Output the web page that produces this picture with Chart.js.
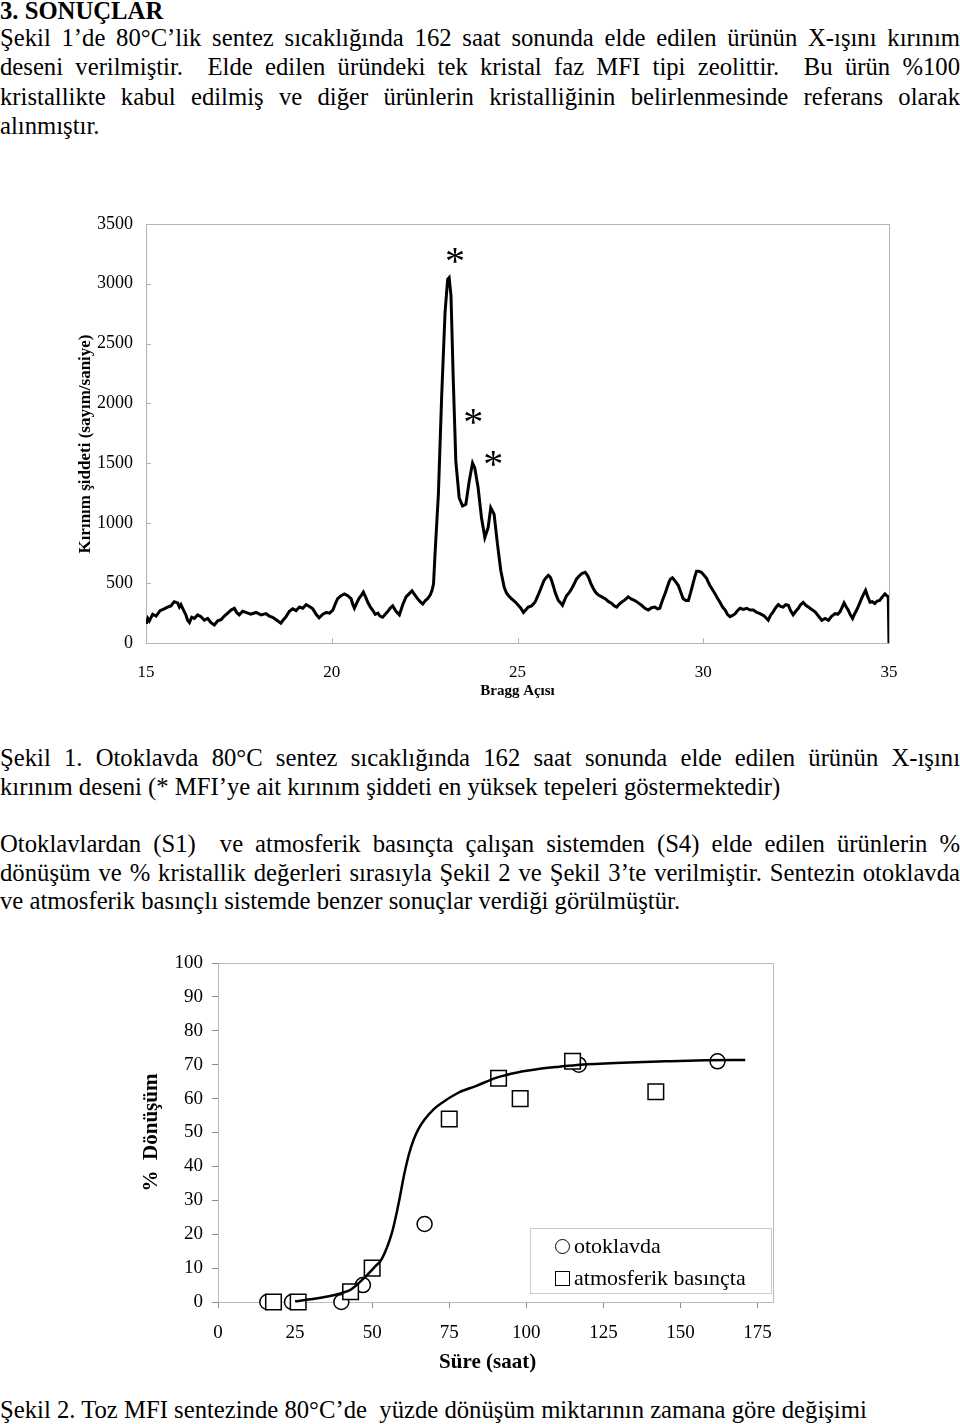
<!DOCTYPE html>
<html>
<head>
<meta charset="utf-8">
<script src="https://cdn.jsdelivr.net/npm/chart.js@4.4.1/dist/chart.umd.min.js"></script>
<style>
  body { margin: 0; background: #fff; width: 960px; height: 1424px; position: relative; overflow: hidden;
         font-family: "Liberation Serif", "Times New Roman", serif; color: #000; }
  .t { position: absolute; left: 0; width: 960px; font-size: 24.7px; line-height: 29.3px; }
  .j { text-align: justify; text-align-last: justify; }
  h1 { position: absolute; left: 0; top: -3px; margin: 0; font-size: 24.7px; line-height: 28px; font-weight: bold; }
  #c1 { position: absolute; left: 60px; top: 200px; }
  #c2 { position: absolute; left: 120px; top: 940px; }
  #legend { position: absolute; left: 530px; top: 1228px; width: 240px; height: 64px; border: 1px solid #ccc;
            font-size: 22px; }
  #legend div { position: absolute; left: 24px; height: 24px; line-height: 24px; white-space: nowrap; }
  .mk { display: inline-block; width: 13px; height: 13px; border: 1.5px solid #000; margin-right: 4px; vertical-align: -1px; }
  .mk.c { border-radius: 50%; }
</style>
</head>
<body>
<h1>3. SONUÇLAR</h1>

<div class="t" style="top:23px">
  <div class="j">Şekil 1’de 80°C’lik sentez sıcaklığında 162 saat sonunda elde edilen ürünün X-ışını kırınım</div>
  <div class="j">deseni verilmiştir.&nbsp; Elde edilen üründeki tek kristal faz MFI tipi zeolittir.&nbsp; Bu ürün %100</div>
  <div class="j">kristallikte kabul edilmiş ve diğer ürünlerin kristalliğinin belirlenmesinde referans olarak</div>
  <div>alınmıştır.</div>
</div>

<canvas id="c1" width="860" height="510"></canvas>

<div class="t" style="top:743px">
  <div class="j">Şekil 1. Otoklavda 80°C sentez sıcaklığında 162 saat sonunda elde edilen ürünün X-ışını</div>
  <div>kırınım deseni (* MFI’ye ait kırınım şiddeti en yüksek tepeleri göstermektedir)</div>
</div>

<div class="t" style="top:830px;line-height:28.5px">
  <div class="j">Otoklavlardan (S1)&nbsp; ve atmosferik basınçta çalışan sistemden (S4) elde edilen ürünlerin %</div>
  <div class="j">dönüşüm ve % kristallik değerleri sırasıyla Şekil 2 ve Şekil 3’te verilmiştir. Sentezin otoklavda</div>
  <div>ve atmosferik basınçlı sistemde benzer sonuçlar verdiği görülmüştür.</div>
</div>

<canvas id="c2" width="680" height="450"></canvas>
<div id="legend">
  <div style="top:5px"><span class="mk c"></span>otoklavda</div>
  <div style="top:37px"><span class="mk"></span>atmosferik basınçta</div>
</div>

<div class="t" style="top:1395px">
  <div>Şekil 2. Toz MFI sentezinde 80°C’de&nbsp; yüzde dönüşüm miktarının zamana göre değişimi</div>
</div>

<script>
// Şekil 1 - XRD deseni
const braggAngle = [
  15.01, 15.05, 15.09, 15.18, 15.27, 15.38, 15.49, 15.58, 15.67, 15.76, 15.85, 15.90, 15.94, 16.01, 16.08, 16.12,
  16.17, 16.23, 16.30, 16.39, 16.48, 16.57, 16.66, 16.75, 16.84, 16.93, 17.02, 17.11, 17.20, 17.29, 17.38, 17.44,
  17.51, 17.60, 17.69, 17.82, 17.96, 18.10, 18.23, 18.32, 18.41, 18.52, 18.63, 18.70, 18.77, 18.86, 18.95, 19.04,
  19.13, 19.22, 19.31, 19.40, 19.49, 19.58, 19.66, 19.76, 19.85, 19.94, 20.03, 20.10, 20.16, 20.25, 20.34, 20.43,
  20.52, 20.57, 20.61, 20.68, 20.74, 20.80, 20.85, 20.91, 20.97, 21.04, 21.10, 21.17, 21.24, 21.30, 21.37, 21.44,
  21.50, 21.57, 21.64, 21.73, 21.82, 21.91, 22.00, 22.08, 22.16, 22.24, 22.31, 22.38, 22.45, 22.52, 22.58, 22.65,
  22.70, 22.74, 22.78, 22.87, 22.96, 23.05, 23.12, 23.16, 23.21, 23.27, 23.34, 23.43, 23.52, 23.61, 23.70, 23.79,
  23.85, 23.94, 24.03, 24.12, 24.21, 24.28, 24.37, 24.46, 24.55, 24.64, 24.70, 24.75, 24.82, 24.89, 24.95, 25.02,
  25.09, 25.16, 25.22, 25.29, 25.38, 25.47, 25.54, 25.61, 25.66, 25.71, 25.77, 25.83, 25.88, 25.92, 25.97, 26.01,
  26.06, 26.10, 26.16, 26.21, 26.27, 26.32, 26.39, 26.46, 26.52, 26.59, 26.66, 26.73, 26.78, 26.82, 26.86, 26.91,
  26.97, 27.04, 27.11, 27.18, 27.27, 27.36, 27.45, 27.54, 27.60, 27.67, 27.74, 27.80, 27.89, 27.98, 28.07, 28.16,
  28.25, 28.34, 28.43, 28.52, 28.61, 28.70, 28.77, 28.83, 28.90, 28.97, 29.03, 29.08, 29.12, 29.17, 29.25, 29.33,
  29.40, 29.46, 29.53, 29.60, 29.66, 29.71, 29.77, 29.82, 29.88, 29.95, 30.02, 30.09, 30.14, 30.18, 30.25, 30.32,
  30.38, 30.45, 30.52, 30.59, 30.65, 30.72, 30.79, 30.86, 30.92, 30.99, 31.08, 31.17, 31.26, 31.35, 31.44, 31.53,
  31.64, 31.75, 31.81, 31.88, 31.95, 32.02, 32.08, 32.15, 32.22, 32.29, 32.35, 32.42, 32.49, 32.56, 32.62, 32.69,
  32.76, 32.83, 32.92, 33.01, 33.10, 33.19, 33.28, 33.37, 33.46, 33.55, 33.62, 33.68, 33.74, 33.79, 33.85, 33.90,
  33.96, 34.02, 34.07, 34.13, 34.20, 34.26, 34.32, 34.37, 34.43, 34.49, 34.55, 34.62, 34.68, 34.75, 34.82, 34.89,
  34.94, 34.98, 35.00
];
const intensity = [
  160, 205, 185, 240, 225, 270, 285, 300, 310, 345, 335, 300, 320, 275, 230, 190,
  170, 215, 205, 235, 220, 190, 205, 170, 150, 185, 195, 225, 250, 275, 290, 255,
  235, 265, 255, 240, 255, 235, 245, 225, 215, 190, 165, 195, 220, 265, 285, 270,
  300, 290, 320, 305, 285, 240, 210, 240, 255, 250, 275, 330, 370, 395, 410, 395,
  370, 320, 290, 340, 375, 400, 425, 385, 340, 300, 275, 240, 250, 225, 215, 240,
  260, 290, 310, 265, 235, 320, 385, 410, 435, 400, 370, 345, 325, 355, 370, 400,
  440, 495, 744, 1241, 2070, 2761, 3037, 3051, 2899, 2208, 1517, 1213, 1144, 1158, 1351, 1503,
  1461, 1296, 1047, 881, 964, 1130, 1075, 827, 605, 467, 420, 398, 375, 356, 340, 315,
  290, 255, 275, 300, 310, 340, 390, 440, 480, 520, 545, 565, 550, 520, 470, 425,
  385, 355, 335, 315, 360, 395, 420, 455, 490, 535, 560, 580, 585, 590, 575, 550,
  500, 455, 420, 400, 385, 370, 345, 330, 310, 300, 325, 340, 360, 385, 365, 355,
  335, 315, 290, 275, 295, 300, 285, 290, 355, 410, 465, 510, 535, 545, 515, 480,
  420, 370, 355, 355, 420, 480, 550, 600, 600, 590, 565, 540, 505, 480, 445, 410,
  375, 340, 300, 275, 240, 220, 230, 245, 270, 290, 280, 290, 275, 275, 255, 245,
  225, 190, 230, 260, 295, 320, 305, 300, 320, 315, 270, 235, 265, 290, 320, 340,
  315, 300, 280, 260, 225, 190, 205, 190, 225, 245, 240, 260, 300, 335, 300, 275,
  235, 205, 240, 275, 325, 370, 410, 440, 385, 340, 345, 330, 350, 355, 385, 410,
  395, 385, 0
];
const angleTicks = [15, 20, 25, 30, 35];
const countTicks = [0, 500, 1000, 1500, 2000, 2500, 3000, 3500];
// MFI tepeleri (*) işaretleri
const starAngle = [23.32, 23.81, 24.35];
const starCount = [3236, 1890, 1540];

// Şekil 2 - % dönüşüm
const otoklavdaSaat = [16, 24, 40, 47, 67, 117, 162];
const otoklavdaDonusum = [0, 0, 0, 5, 23, 70, 71];
const atmosferikSaat = [18, 26, 43, 50, 75, 91, 98, 115, 142];
const atmosferikDonusum = [0, 0, 3, 10, 54, 66, 60, 71, 62];
const egriSaat = [25, 30, 36, 40, 43, 48, 51, 53, 56.4, 58.4, 60.5, 62, 63.5, 65, 67, 70, 72.7, 78.1, 83.6, 90.4, 97.1, 103.9, 110.7, 117.5, 131, 145, 158, 171];
const egriDonusum = [0.2, 0.8, 1.7, 2.6, 3.6, 7.6, 10.5, 12.5, 20.4, 28.3, 38.1, 43.8, 48.0, 51.0, 53.8, 56.9, 58.8, 61.8, 63.7, 66.2, 67.7, 68.7, 69.4, 70, 70.6, 71, 71.3, 71.4];

const serif = '"Liberation Serif", "Times New Roman", serif';

const frame = {
  id: 'frame',
  beforeDatasetsDraw(chart, args, opts) {
    const { ctx, chartArea: a, scales } = chart;
    ctx.save();
    ctx.strokeStyle = opts.color;
    ctx.lineWidth = 1;
    ctx.strokeRect(Math.round(a.left) + 0.5, Math.round(a.top) + 0.5, Math.round(a.width), Math.round(a.height));
    if (opts.inside) {
      ctx.beginPath();
      scales.x.ticks.forEach(t => {
        const px = Math.round(scales.x.getPixelForValue(t.value)) + 0.5;
        ctx.moveTo(px, a.bottom); ctx.lineTo(px, a.bottom - 5);
      });
      scales.y.ticks.forEach(t => {
        const py = Math.round(scales.y.getPixelForValue(t.value)) + 0.5;
        ctx.moveTo(a.left, py); ctx.lineTo(a.left + 5, py);
      });
      ctx.stroke();
    }
    ctx.restore();
  }
};

const stars = {
  id: 'stars',
  afterDatasetsDraw(chart) {
    const { ctx, scales } = chart;
    ctx.save();
    ctx.font = '40px ' + serif;
    ctx.textAlign = 'center';
    ctx.textBaseline = 'alphabetic';
    ctx.fillStyle = '#000';
    starAngle.forEach((a, i) => {
      const m = ctx.measureText('*');
      const x = scales.x.getPixelForValue(a);
      const y = scales.y.getPixelForValue(starCount[i]);
      ctx.fillText('*', x, y + (m.actualBoundingBoxAscent - m.actualBoundingBoxDescent) / 2);
    });
    ctx.restore();
  }
};

new Chart(document.getElementById('c1'), {
  type: 'line',
  data: {
    datasets: [{
      data: braggAngle.map((a, i) => ({ x: a, y: intensity[i] })),
      borderColor: '#000',
      borderWidth: 3,
      pointRadius: 0,
      tension: 0,
      fill: false
    }]
  },
  options: {
    responsive: false,
    animation: false,
    layout: { padding: { top: 22, right: 31, left: 0, bottom: 0 } },
    plugins: {
      legend: { display: false },
      tooltip: { enabled: false },
      frame: { color: '#b4b4b4', inside: true }
    },
    scales: {
      x: {
        type: 'linear', min: 15, max: 35,
        afterFit: s => { s.height = 67; },
        afterBuildTicks: s => { s.ticks = angleTicks.map(v => ({ value: v })); },
        grid: { display: false, drawTicks: false },
        border: { display: false },
        ticks: { color: '#000', padding: 19, maxRotation: 0, font: { family: serif, size: 17 },
                 callback: v => String(v) },
        title: { display: true, text: 'Bragg Açısı', color: '#000', padding: { top: 0, bottom: 10 },
                 font: { family: serif, size: 15, weight: 'bold' } }
      },
      y: {
        min: 0, max: 3500,
        afterFit: s => { s.width = 86; },
        afterBuildTicks: s => { s.ticks = countTicks.map(v => ({ value: v })); },
        grid: { display: false, drawTicks: false },
        border: { display: false },
        ticks: { color: '#000', padding: 13, font: { family: serif, size: 18 },
                 callback: v => String(v) },
        title: { display: true, text: 'Kırınım şiddeti (sayım/saniye)\u00a0\u00a0\u00a0\u00a0\u00a0', color: '#000',
                 padding: { top: 15, bottom: 0 }, font: { family: serif, size: 17, weight: 'bold' } }
      }
    }
  },
  plugins: [frame, stars]
});

new Chart(document.getElementById('c2'), {
  type: 'scatter',
  data: {
    datasets: [
      {
        data: egriSaat.map((x, i) => ({ x, y: egriDonusum[i] })),
        showLine: true,
        borderColor: '#000',
        borderWidth: 2.5,
        pointRadius: 0,
        cubicInterpolationMode: 'monotone',
        clip: false
      },
      {
        label: 'atmosferik basınçta',
        data: atmosferikSaat.map((x, i) => ({ x, y: atmosferikDonusum[i] })),
        pointStyle: 'rect',
        pointRadius: 11,
        borderWidth: 1.5,
        borderColor: '#000',
        backgroundColor: '#fff',
        clip: false
      },
      {
        label: 'otoklavda',
        data: otoklavdaSaat.map((x, i) => ({ x, y: otoklavdaDonusum[i] })),
        pointStyle: 'circle',
        pointRadius: 7.5,
        borderWidth: 1.5,
        borderColor: '#000',
        backgroundColor: '#fff',
        clip: false
      }
    ]
  },
  options: {
    responsive: false,
    animation: false,
    layout: { padding: { top: 23, right: 27, left: 0, bottom: 0 } },
    plugins: {
      legend: { display: false },
      tooltip: { enabled: false },
      frame: { color: '#bbb', inside: false }
    },
    scales: {
      x: {
        type: 'linear', min: 0, max: 180,
        afterFit: s => { s.height = 88; },
        ticks: { stepSize: 25, includeBounds: false, color: '#000', padding: 14, maxRotation: 0,
                 font: { family: serif, size: 19 } },
        grid: { drawOnChartArea: false, drawTicks: true, tickLength: 6, color: '#888' },
        border: { color: '#888' },
        title: { display: true, text: 'Süre (saat)\u00a0\u00a0\u00a0', color: '#000', padding: { top: 0, bottom: 15 },
                 font: { family: serif, size: 21, weight: 'bold' } }
      },
      y: {
        min: 0, max: 100,
        afterFit: s => { s.width = 98; },
        ticks: { stepSize: 10, color: '#000', padding: 9, font: { family: serif, size: 19 } },
        grid: { drawOnChartArea: false, drawTicks: true, tickLength: 6, color: '#888' },
        border: { color: '#888' },
        title: { display: true, text: '%  Dönüşüm', color: '#000', padding: { top: 19, bottom: 0 },
                 font: { family: serif, size: 21, weight: 'bold' } }
      }
    }
  },
  plugins: [frame]
});
</script>
</body>
</html>
